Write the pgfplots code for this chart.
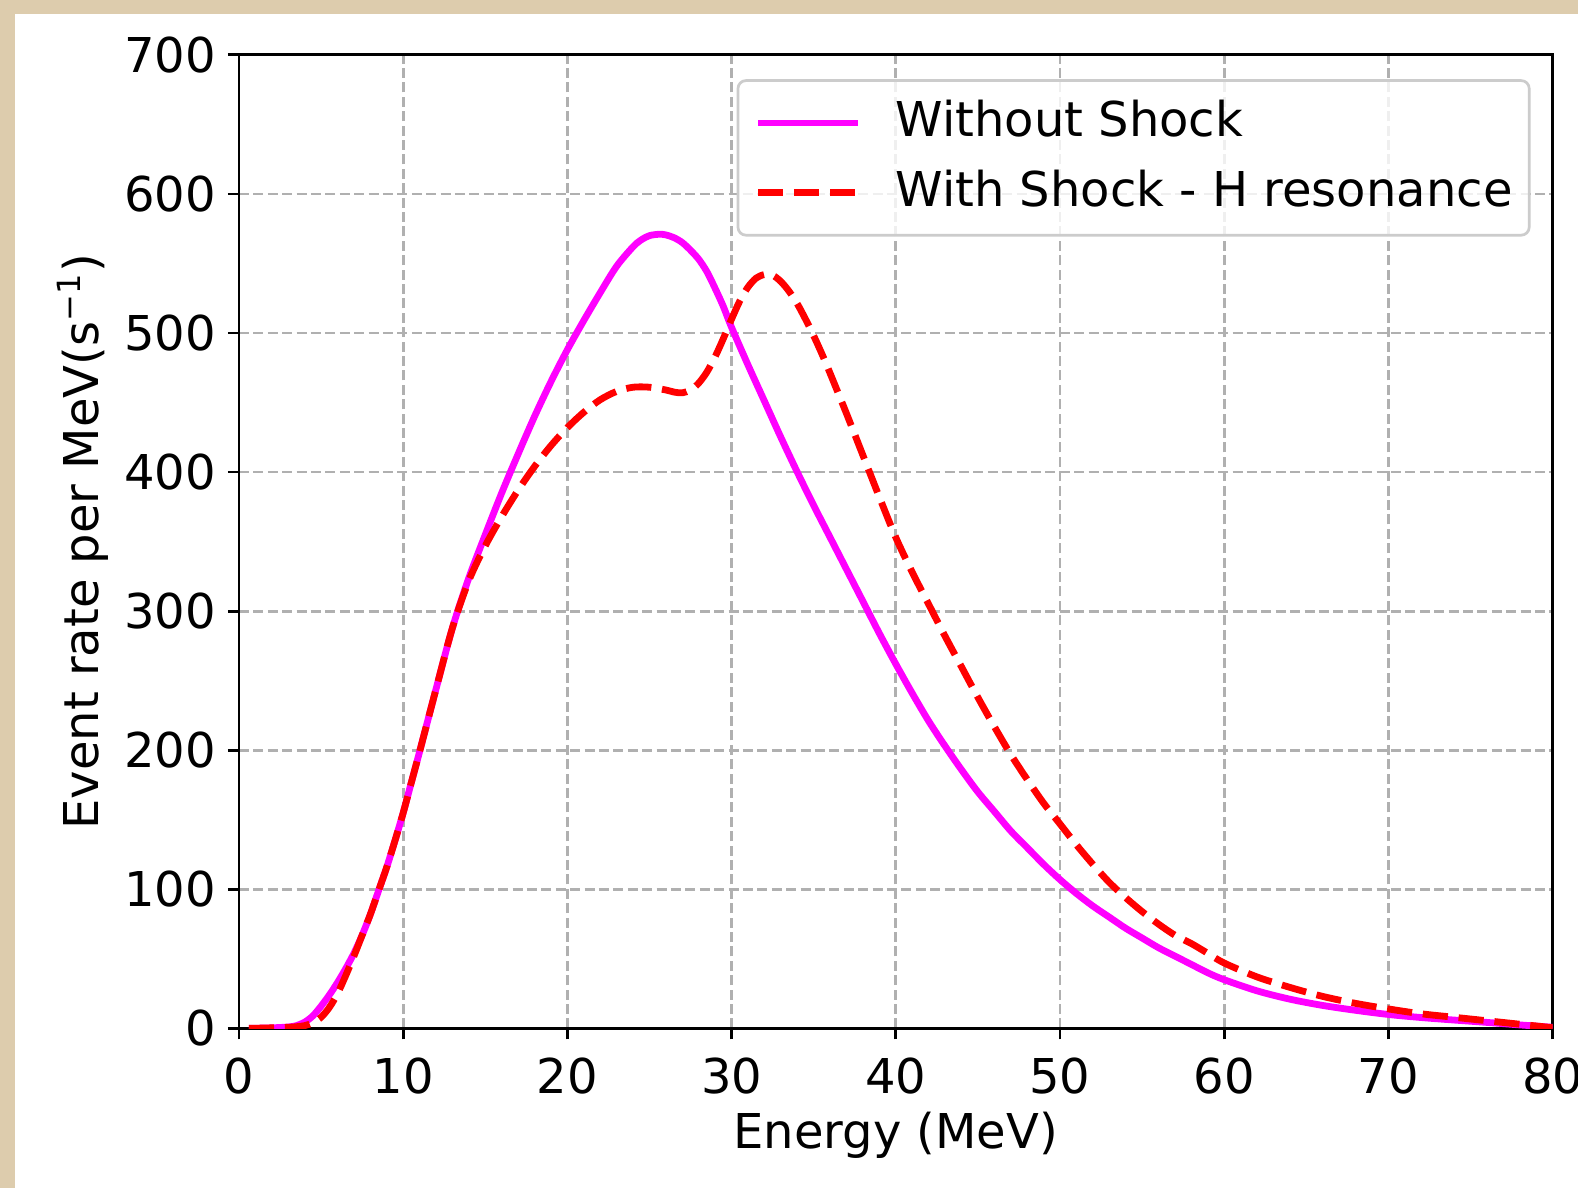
\documentclass[border=0pt]{standalone}
\usepackage{fontspec}
\setmainfont{DejaVu Sans}
\usepackage{pgfplots}
\pgfplotsset{compat=1.18}
\definecolor{beige}{RGB}{221,204,173}
\definecolor{gridgray}{RGB}{176,176,176}
\definecolor{legframe}{RGB}{204,204,204}
\definecolor{mplmag}{RGB}{255,0,255}
\definecolor{mplred}{RGB}{255,0,0}

\pgfplotstableread{
E V
0.6 0
1 0.1
2 0.4
3 1
3.5 2
4 4.5
4.5 9
5 16
5.5 24
6 33
6.5 43
7 54
7.5 67
8 82
8.5 99
9 116
9.5 135
10 155
10.5 177
11 199
12 244
13 288
14 324
15 355
16 385
17 413
18 440
19 465
20 488
21 509
22 529
23 548
24 562
24.5 567
25 570
25.6 571
26 570.5
26.5 568.5
27 565
27.5 559.5
28 553
28.5 544
29 532
29.5 519
30 504
31 477
32 451
33 425
34 400
35 376
36 353
37 330
38 307
39 284
40 262
41 241
42 221
43 203
44 186
45 170
46 156
47 142
48 130
49 118
50 107
51 97
52 88
53 80
54 72
55 65
56 58
57 52
58 46
59 40
60 35
62 27
64 21
66 16.5
68 13
70 10
72 7.8
74 6
76 4.3
78 2.5
80 0.8
}\withoutshock

\pgfplotstableread{
E V
0.6 0
1 0.1
2 0.4
3 0.8
3.5 1.2
4 2
4.5 4
5 8
5.5 15
6 25
6.5 38
7 52
7.5 67
8 82
8.5 99
9 116
9.5 135
10 155
10.5 177
11 199
12 244
13 288
14 322
15 347
16 368
17 387
18 404
19 419
20 432
21 443
22 452
23 458
24 461
25 461
26 459
26.5 457.5
27 457
27.5 459
28 464
28.5 472
29 483
29.5 496
30 510
30.5 523
31 533
31.5 539.5
32 542
32.5 541.5
33 537
33.5 530
34 521
34.5 510
35 498
35.5 485
36 471
37 442
38 412
39 382
40 353
41 328
42 305
43 282
44 260
45 238
46 217
47 197
48 179
49 162
50 147
51 132
52 118
53 105
54 94
55 84
56 75
57 67
58 61
59 54
60 47
62 37
64 29.5
66 23
68 18
70 14
72 10.5
74 8
76 5.5
78 3
80 0.5
}\withshock

\begin{document}
\begin{tikzpicture}
\fill[beige] (0,0) rectangle (394.5pt,297pt);
\fill[white] (3.75pt,0) rectangle (394.5pt,293.5pt);
\begin{axis}[
  at={(59.75pt,39.9pt)}, anchor=south west,
  scale only axis, width=328.4pt, height=243.4pt,
  xmin=0, xmax=80, ymin=0, ymax=700,
  xtick={0,10,...,80}, ytick={0,100,...,700},
  axis line style={line width=0.68pt, black},
  every tick/.style={line width=0.68pt, black},
  tick align=outside, major tick length=2.75pt,
  xtick pos=bottom, ytick pos=left,
  grid=major,
  major grid style={gridgray, line width=0.68pt, dash pattern=on 2.5pt off 1.1pt},
  /pgf/number format/assume math mode=true,
  ticklabel style={font=\fontsize{12}{14.4}\selectfont},
  xticklabel style={inner sep=0pt, anchor=north, yshift=-4.3pt},
  yticklabel style={inner sep=0pt, anchor=east, xshift=-2.8pt},
  label style={font=\fontsize{12}{14.4}\selectfont},
  xlabel={Energy (MeV)},
  ylabel={Event rate per MeV(s\textsuperscript{−1})},
  xlabel style={at={(axis description cs:0.5,-0.1097)}, anchor=center},
  ylabel style={at={(axis description cs:-0.119,0.5)}, anchor=center},
  legend cell align=left,
  legend image code/.code={\draw[#1] (0pt,0pt) -- (25pt,0pt);},
  legend style={at={(axis description cs:1,1)}, anchor=north east,
    xshift=-5.5pt, yshift=-6.1pt,
    draw=legframe, line width=0.68pt, rounded corners=2pt,
    fill=white, fill opacity=0.8, text opacity=1,
    inner xsep=4.2pt, inner ysep=5pt, row sep=6.15pt, column sep=8.55pt,
    font=\fontsize{12}{14.4}\selectfont,
    nodes={inner sep=0pt, text height=9.0pt, text depth=2.25pt}},
]
\addplot[mplmag, line width=1.7pt, smooth, tension=0.5] table[x=E,y=V] {\withoutshock};
\addlegendentry{Without Shock}
\addplot[mplred, line width=1.7pt, smooth, tension=0.5, dash pattern=on 6.3pt off 2.7pt] table[x=E,y=V] {\withshock};
\addlegendentry{With Shock - H resonance}
\end{axis}
\pgfresetboundingbox
\useasboundingbox (0,0) rectangle (394.5pt,297pt);
\end{tikzpicture}
\end{document}
